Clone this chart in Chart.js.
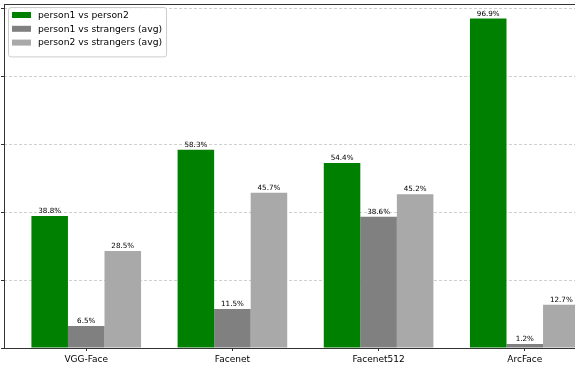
<!DOCTYPE html>
<html>
<head>
<meta charset="utf-8">
<script src="https://cdn.jsdelivr.net/npm/chart.js@4/dist/chart.umd.min.js"></script>
<style>
  html, body { margin: 0; padding: 0; background: #ffffff; overflow: hidden; width: 575px; height: 371px; }
  #wrap { position: absolute; left: -36px; top: 0; width: 680px; height: 371px; }
</style>
</head>
<body>
<div id="wrap"><canvas id="c"></canvas></div>
<script>
const categories = ['VGG-Face', 'Facenet', 'Facenet512', 'ArcFace'];
const seriesNames = ['person1 vs person2', 'person1 vs strangers (avg)', 'person2 vs strangers (avg)'];
const pairValues = [38.8, 58.3, 54.4, 96.9];
const p1StrangerValues = [6.5, 11.5, 38.6, 1.2];
const p2StrangerValues = [28.5, 45.7, 45.2, 12.7];
const seriesColors = ['#008000', '#808080', '#a9a9a9'];
const yTickStep = 20;

const FONT = 'DejaVu Sans';

function toPoints(vals) { return vals.map((v, i) => ({ x: i, y: v })); }

const frame = {
  id: 'frame',
  afterDraw(chart) {
    const ctx = chart.ctx, a = chart.chartArea;
    // bar value labels
    ctx.save();
    ctx.fillStyle = '#000';
    ctx.font = '7.2px "' + FONT + '"';
    ctx.textAlign = 'center';
    ctx.textBaseline = 'alphabetic';
    chart.data.datasets.forEach((ds, di) => {
      const meta = chart.getDatasetMeta(di);
      meta.data.forEach((bar, i) => {
        ctx.fillText(ds.data[i].y.toFixed(1) + '%', bar.x, bar.y - 3);
      });
    });
    ctx.restore();
    // spines
    ctx.save();
    ctx.strokeStyle = '#333';
    ctx.lineWidth = 1;
    ctx.strokeRect(Math.round(a.left) + 0.5, Math.round(a.top) + 0.5,
                   Math.round(a.right - a.left), Math.round(a.bottom - a.top));
    ctx.restore();
    // legend
    ctx.save();
    ctx.font = '9.2px "' + FONT + '"';
    const boxL = a.left + 4, boxT = a.top + 3;
    const textX = boxL + 30;
    let maxW = 0;
    chart.data.datasets.forEach(ds => { maxW = Math.max(maxW, ctx.measureText(ds.label).width); });
    const boxW = textX - boxL + maxW + 4;
    const rowH = 13.8;
    const boxH = 8 + rowH * chart.data.datasets.length;
    ctx.beginPath();
    if (ctx.roundRect) ctx.roundRect(boxL + 0.5, boxT + 0.5, boxW, boxH, 2.5);
    else ctx.rect(boxL + 0.5, boxT + 0.5, boxW, boxH);
    ctx.fillStyle = 'rgba(255,255,255,0.8)';
    ctx.fill();
    ctx.strokeStyle = '#cccccc';
    ctx.lineWidth = 1;
    ctx.stroke();
    ctx.textBaseline = 'middle';
    ctx.textAlign = 'left';
    chart.data.datasets.forEach((ds, di) => {
      const cy = boxT + 8 + rowH * di;
      ctx.fillStyle = ds.backgroundColor;
      ctx.fillRect(boxL + 4, cy - 3, 19, 6);
      ctx.fillStyle = '#000';
      ctx.fillText(ds.label, textX, cy + 0.5);
    });
    ctx.restore();
  }
};

new Chart(document.getElementById('c'), {
  type: 'bar',
  data: {
    datasets: [
      { label: seriesNames[0], data: toPoints(pairValues), backgroundColor: seriesColors[0] },
      { label: seriesNames[1], data: toPoints(p1StrangerValues), backgroundColor: seriesColors[1] },
      { label: seriesNames[2], data: toPoints(p2StrangerValues), backgroundColor: seriesColors[2] }
    ]
  },
  options: {
    responsive: true,
    maintainAspectRatio: false,
    animation: false,
    events: [],
    categoryPercentage: 0.75,
    barPercentage: 1.0,
    borderWidth: 0,
    layout: { padding: { left: 0, top: 4, right: 37, bottom: 0 } },
    plugins: { legend: { display: false }, tooltip: { enabled: false } },
    scales: {
      x: {
        type: 'linear',
        offset: false,
        min: -0.5625,
        max: 3.5625,
        afterBuildTicks: s => { s.ticks = categories.map((_, i) => ({ value: i })); },
        afterFit: s => { s.height = 23; s.paddingLeft = 0; s.paddingRight = 0; },
        ticks: {
          callback: v => categories[v],
          autoSkip: false,
          maxRotation: 0,
          padding: 3,
          color: '#000',
          font: { family: FONT, size: 9 }
        },
        grid: { offset: false, drawOnChartArea: false, drawTicks: true, tickLength: 3, tickColor: '#333', tickWidth: 1 },
        border: { display: false }
      },
      y: {
        min: 0,
        max: 101.2,
        z: 1,
        afterFit: s => { s.width = 40; s.paddingTop = 0; s.paddingBottom = 0; },
        ticks: {
          stepSize: yTickStep,
          includeBounds: false,
          padding: 3,
          color: '#000',
          font: { family: FONT, size: 9 }
        },
        grid: {
          color: 'rgba(176,176,176,0.75)',
          lineWidth: 0.8,
          tickBorderDash: [],
          tickColor: '#333',
          tickWidth: 1,
          tickLength: 3
        },
        border: { display: false, dash: [3, 2] }
      }
    }
  },
  plugins: [frame]
});
</script>
</body>
</html>
